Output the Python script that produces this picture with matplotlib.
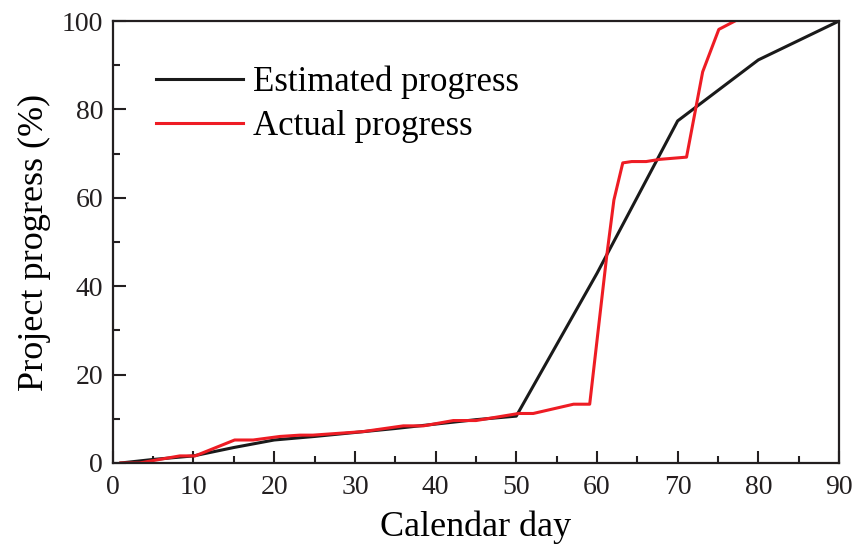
import matplotlib
matplotlib.use('Agg')
import matplotlib.pyplot as plt
from matplotlib.ticker import MultipleLocator

# estimated plan
est_day = [1, 5, 10, 15, 20, 25, 30, 35, 40, 45, 50, 60, 70, 80, 90]
est_prog = [0, 0.8, 1.6, 3.5, 5.2, 6.0, 6.9, 7.8, 8.8, 9.8, 10.6, 42.9, 77.4, 91.2, 100]

# actual progress
act_day = [1, 3.3, 8.3, 10.2, 15.1, 17.4, 20.7, 23.2, 24.8, 31, 36, 38.5, 42.2, 45, 50.3,
           52.1, 57.1, 59.1, 61.2, 62.1, 63.2, 64.3, 66.1, 67.8, 71.1, 73.1, 75.1, 77.1]
act_prog = [0, 0, 1.6, 1.6, 5.2, 5.2, 6.0, 6.3, 6.3, 7.1, 8.4, 8.4, 9.6, 9.6, 11.2,
            11.2, 13.3, 13.3, 46.7, 59.5, 67.9, 68.2, 68.2, 68.7, 69.2, 88.5, 98.1, 100]

plt.rcParams['font.family'] = ['Liberation Serif', 'DejaVu Serif']

fig = plt.figure(figsize=(8.61, 5.47), dpi=100)
ax = fig.add_axes([0.131, 0.1536, 0.8435, 0.808])

ax.plot(est_day, est_prog, color='#1a1a1a', lw=2.2, label='Estimated progress')
ax.plot(act_day, act_prog, color='#ee1c24', lw=2.2, label='Actual progress')

ax.set_xlim(0, 90)
ax.set_ylim(0, 100)
ax.xaxis.set_major_locator(MultipleLocator(10))
ax.xaxis.set_minor_locator(MultipleLocator(5))
ax.yaxis.set_major_locator(MultipleLocator(20))
ax.yaxis.set_minor_locator(MultipleLocator(10))
ax.tick_params(which='both', direction='in', top=False, right=False, width=1.5,
               labelsize=20, colors='#231f20')
ax.tick_params(which='major', length=9)
ax.tick_params(which='minor', length=5)
ax.tick_params(axis='x', which='major', pad=9)
ax.tick_params(axis='y', which='major', pad=7)
for s in ax.spines.values():
    s.set_linewidth(1.6)
    s.set_color('#231f20')

ax.set_xlabel('Calendar day', fontsize=26, labelpad=7)
ax.set_ylabel('Project progress (%)', fontsize=26, labelpad=8)

ax.legend(loc='upper left', bbox_to_anchor=(0.04, 0.93), frameon=False, fontsize=25,
          handlelength=2.5, handletextpad=0.3, labelspacing=0.3, borderaxespad=0)

fig.savefig('out.png', dpi=100)
